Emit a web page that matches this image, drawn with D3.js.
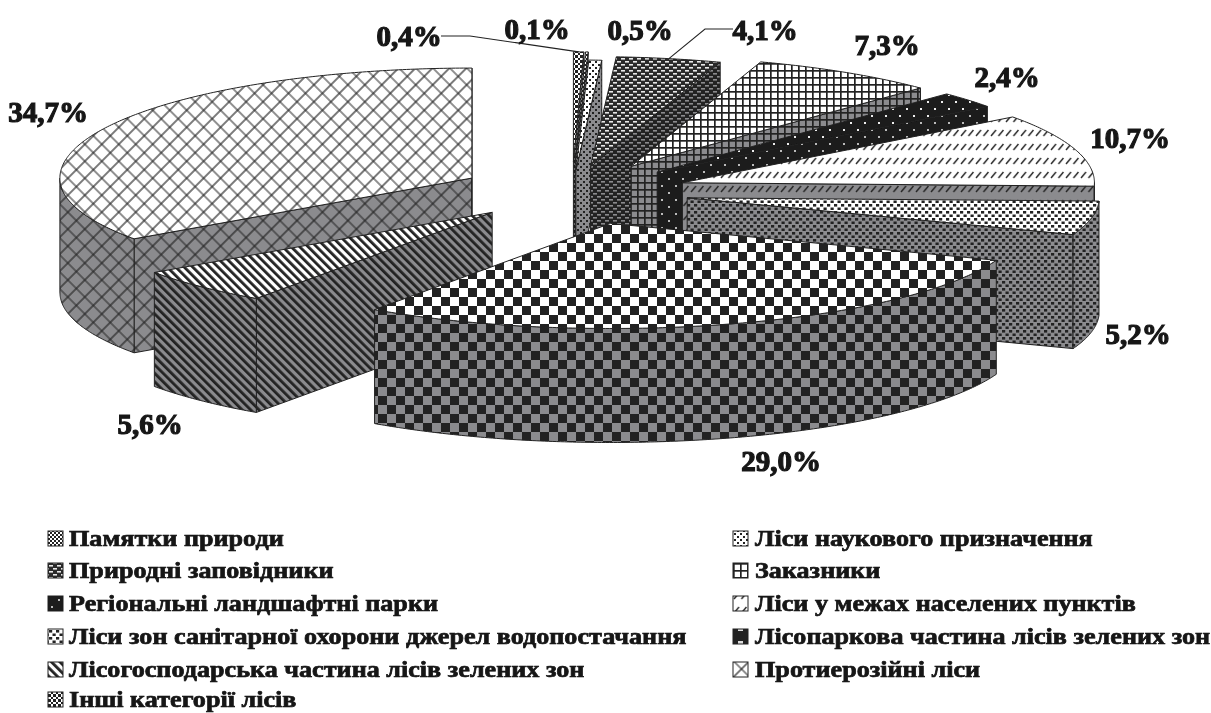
<!DOCTYPE html>
<html><head><meta charset="utf-8">
<script src="https://cdn.jsdelivr.net/npm/d3@7"></script>
<style>
html,body{margin:0;padding:0;background:#fff;overflow:hidden}
text{font-family:"Liberation Serif",serif;font-weight:700;fill:#141414}
.pct{font-size:29px;stroke:#141414;stroke-width:1.2px}
.leg{font-size:24px;stroke:#141414;stroke-width:.7px}
</style></head><body><svg id="c" width="1211" height="713"></svg>
<script>
// ---- data, legend order (clockwise on the pie) ----
const categories = ["Памятки природи","Ліси наукового призначення","Природні заповідники","Заказники",
  "Регіональні ландшафтні парки","Ліси у межах населених пунктів","Ліси зон санітарної охорони джерел водопостачання",
  "Лісопаркова частина лісів зелених зон","Лісогосподарська частина лісів  зелених зон","Протиерозійні ліси","Інші категорії лісів"];
const values = [0.1,0.5,4.1,7.3,2.4,10.7,5.2,29.0,5.6,34.7,0.4];
const labels = ["0,1%","0,5%","4,1%","7,3%","2,4%","10,7%","5,2%","29,0%","5,6%","34,7%","0,4%"];

// ---- layout ----
const W=1211,H=713, CX=572, CY=192, RX=412, RY_BACK=110, RY_FRONT=105, DEPTH=114;
const explodeBy=[0.274,0.2,0.235,0.274,0.274,0.281,0.285,0.314,0.274,0.274,0.274];
const labelCentre=[[537,29],[640,30],[765,30],[887,45],[1007,77],[1130,138],[1138,334],[781,461],[150,424],[48,112],[409,36]];
const leaderElbow={2:[705,29],10:[470,36]};
const leaderStart={2:[733,29],10:[441,36]};
const legendRows=[538,570,603,636,669,699], legendCols=[[48,69],[733,755]], LEGEND_STRETCH=1.09;
const patternNames=["phat","pdot","pdark","pgrid","pblack","pdash","pspot","pcheck","pstripe","pcross","pdense"];
const swatchNames=["phatT","pdotT","pdarkT","pgridT","pblackS","pdashT","pspotT","psmallT","pstripeT","pcrossT","pdenseT"];

const svg=d3.select("#c");
const defs=svg.append("defs");
defs.append("filter").attr("id","soft").append("feGaussianBlur").attr("stdDeviation",0.45);
const INK="#232323", GREY="#8b8b8e";

function addPattern(id,w,h,bg,draw,transform){
  const p=defs.append("pattern").attr("id",id).attr("patternUnits","userSpaceOnUse").attr("width",w).attr("height",h);
  if(transform)p.attr("patternTransform",transform);
  p.append("rect").attr("width",w).attr("height",h).attr("fill",bg);
  draw(p);
}
const rect=(p,x,y,w,h,f)=>p.append("rect").attr("x",x).attr("y",y).attr("width",w).attr("height",h).attr("fill",f);
const seg=(p,d,s,sw)=>p.append("path").attr("d",d).attr("stroke",s).attr("stroke-width",sw).attr("fill","none");

function family(name,w,h,draw,transform,bgTop,bgSide,inkTop,inkSide){
  addPattern(name+"T",w,h,bgTop,p=>draw(p,inkTop||INK),transform);
  addPattern(name+"S",w,h,bgSide,p=>draw(p,inkSide||INK),transform);
}
family("phat",4,4,(p,c)=>{rect(p,0,0,2,2,c);rect(p,2,2,2,2,c)},null,"#fff",GREY);
family("pdot",6,6,(p,c)=>{rect(p,1,1,2,2,c);rect(p,4,4,2,2,c)},null,"#fff",GREY);
family("pdark",8,6,(p,c)=>{rect(p,1,1,4,1.6,c);rect(p,5,4,3,1.6,c);rect(p,0,4,1,1.6,c)},null,"#2a2a2a","#232323","#e9e9e9","#8b8b8e");
family("pgrid",7,7,(p,c)=>{rect(p,0,0,7,1.7,c);rect(p,0,0,1.7,7,c)},null,"#fff",GREY);
family("pblack",14,14,(p,c)=>{rect(p,3,3,2,2,c);rect(p,10,10,2,2,c)},null,"#1a1a1a","#1a1a1a","#eee","#bbb");
family("pdash",7.5,14,(p,c)=>{seg(p,"M1,10L6,4",c,1.4)},null,"#fff",GREY);
family("pspot",7,7,(p,c)=>{rect(p,1,1,3.2,2.6,c);rect(p,4.5,4.5,2.5,2.5,c);rect(p,0,4.5,.7,2.5,c)},null,"#fff",GREY);
family("pcheck",18,18,(p,c)=>{rect(p,0,0,9,9,c);rect(p,9,9,9,9,c)},null,"#fff",GREY);
family("psmall",15,15,(p,c)=>{rect(p,0,0,15,15,c);rect(p,5,5,5,5,"#ddd")},null,"#fff",GREY);
family("pstripe",6,6,(p,c)=>{p.append("rect").attr("width",2.8).attr("height",6).attr("fill",c)},"rotate(-45)","#fff",GREY);
family("pcross",12,12,(p,c)=>{seg(p,"M0,6H12M6,0V12",c,1.2)},"rotate(45)","#fff",GREY);
family("pdense",5,5,(p,c)=>{rect(p,0,0,3,3,c);rect(p,3,3,2,2,c)},null,"#fff","#1c1c1c",INK,GREY);

// ---- projection through scales ----
const xS=d3.scaleLinear().domain([-1,1]).range([CX-RX,CX+RX]);
const yS=d3.scaleLinear().domain([-1,0,1]).range([CY-RY_BACK,CY,CY+RY_FRONT]);
const unit=a=>[Math.sin(a),-Math.cos(a)];
const firstAngle=values[10]/100*2*Math.PI;
const pie=d3.pie().sort(null).startAngle(firstAngle).endAngle(2*Math.PI+firstAngle);
const arcs=pie(values).map((d,i)=>{
  const mid=(d.startAngle+d.endAngle)/2, u=unit(mid);
  return {...d,i,mid,ax:explodeBy[i]*u[0],ay:explodeBy[i]*u[1]};
});
const pt=(s,a,k=1,z=0)=>{const u=unit(a);return [xS(s.ax+k*u[0]),yS(s.ay+k*u[1])+z]};
const line=d3.line();
const sweep=(s,a0,a1,z)=>{const n=Math.max(2,Math.ceil((a1-a0)/0.01));return d3.range(n+1).map(j=>pt(s,a0+(a1-a0)*j/n,1,z))};

const g=svg.append("g").attr("filter","url(#soft)");
const OUT={stroke:"#222","stroke-width":1,"stroke-linejoin":"round"};
function poly(points,fill){const e=g.append("path").attr("d",line(points)+"Z").attr("fill",fill);
  Object.entries(OUT).forEach(([k,v])=>e.attr(k,v));}

arcs.slice().sort((a,b)=>Math.cos(b.mid)-Math.cos(a.mid)).forEach(s=>{
  const n=patternNames[s.i], side=`url(#${n}S)`, top=`url(#${n}T)`, a0=s.startAngle, a1=s.endAngle;
  const wrap=a=>((a%(2*Math.PI))+2*Math.PI)%(2*Math.PI);
  const face=a=>{const p=pt(s,a,0),q=pt(s,a);poly([p,q,[q[0],q[1]+DEPTH],[p[0],p[1]+DEPTH]],side)};
  if(Math.sin(wrap(a0))<0) face(a0);
  if(Math.sin(wrap(a1))>0) face(a1);
  const w0=Math.max(a0,Math.PI/2), w1=Math.min(a1,3*Math.PI/2);
  if(w1>w0) poly(sweep(s,w0,w1,0).concat(sweep(s,w0,w1,DEPTH).reverse()),side);
  poly([pt(s,a0,0)].concat(sweep(s,a0,a1,0)),top);
});

// ---- leaders ----
Object.keys(leaderElbow).forEach(k=>{
  const s=arcs[k];
  g.append("path").attr("d",line([leaderStart[k],leaderElbow[k],pt(s,s.mid)])).attr("fill","none").attr("stroke","#222").attr("stroke-width",1.1);
});
// ---- percentage labels ----
g.selectAll("text.pct").data(labels).join("text").attr("class","pct").attr("text-anchor","middle").attr("dominant-baseline","central")
 .attr("x",(d,i)=>labelCentre[i][0]).attr("y",(d,i)=>labelCentre[i][1]).text(d=>d);
// ---- legend (two columns, row by row) ----
const leg=g.selectAll("g.l").data(categories).join("g").attr("class","l")
 .attr("transform",(d,i)=>`translate(${legendCols[i%2][0]},${legendRows[Math.floor(i/2)]})`);
leg.append("rect").attr("x",0).attr("y",-7).attr("width",15).attr("height",15).attr("stroke","#222").attr("stroke-width",1)
 .attr("fill",(d,i)=>`url(#${swatchNames[i]})`);
leg.append("text").attr("class","leg").attr("dominant-baseline","central")
 .attr("transform",(d,i)=>`translate(${legendCols[i%2][1]-legendCols[i%2][0]},0) scale(${LEGEND_STRETCH},1)`).text(d=>d);
</script></body></html>
